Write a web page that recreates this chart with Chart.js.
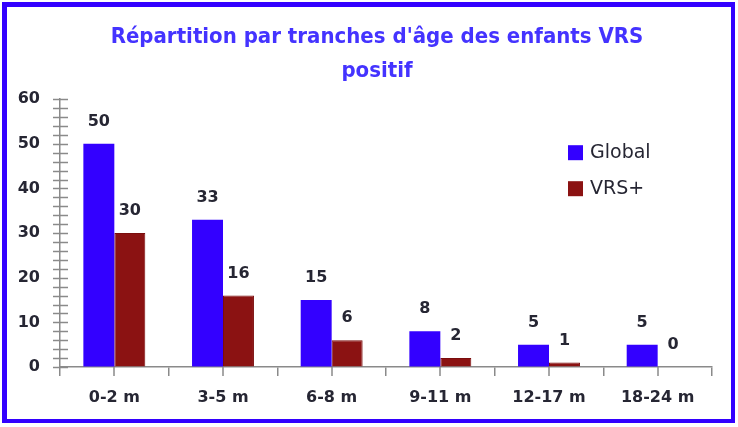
<!DOCTYPE html>
<html>
<head>
<meta charset="utf-8">
<script src="https://cdn.jsdelivr.net/npm/chart.js@4"></script>
<style>
  body { margin: 0; background: #fff; }
  #wrap { position: relative; width: 738px; height: 427px; }
  #cadre { position: absolute; left: 2px; top: 2px; width: 724px; height: 412px;
           border-style: solid; border-color: #3300ff; border-width: 5px 4px 4px 5px;
           pointer-events: none; }
</style>
</head>
<body>
<div id="wrap">
  <canvas id="grafico" width="738" height="427"></canvas>
  <div id="cadre"></div>
</div>
<script>
const tranches = ["0-2 m", "3-5 m", "6-8 m", "9-11 m", "12-17 m", "18-24 m"];
const global = [50, 33, 15, 8, 5, 5];
const vrsPlus = [30, 16, 6, 2, 1, 0];
const titre = ["Répartition par tranches d'âge des enfants VRS", "positif"];

const police = "'DejaVu Sans', sans-serif";
const gris = "#8a8a8a";
const ctx = document.getElementById("grafico").getContext("2d");

// valeurs au-dessus des barres + légende dans la zone du graphique
const etiquettes = {
  id: "etiquettes",
  afterDatasetsDraw(chart) {
    const c = chart.ctx;
    c.save();
    c.font = "bold 16px " + police;
    c.fillStyle = "#262633";
    c.textAlign = "center";
    c.textBaseline = "middle";
    chart.data.datasets.forEach((ds, i) => {
      chart.getDatasetMeta(i).data.forEach((bar, j) => {
        c.fillText(ds.data[j], bar.x, bar.y - 22);
      });
    });
    // légende
    const area = chart.chartArea;
    c.textAlign = "left";
    c.font = "19px " + police;
    chart.data.datasets.forEach((ds, i) => {
      const y = area.top + 53 + i * 36;
      c.fillStyle = ds.backgroundColor;
      c.fillRect(area.right - 144, y - 7, 15, 15);
      c.fillStyle = "#262633";
      c.fillText(ds.label, area.right - 122, y + 1);
    });
    c.restore();
  },
  afterDraw(chart) {
    // graduations : croisées sur l'axe Y, au milieu des groupes sur l'axe X
    const c = chart.ctx;
    const y = chart.scales.y, x = chart.scales.x;
    c.save();
    c.strokeStyle = gris;
    c.lineWidth = 1.5;
    c.beginPath();
    y.ticks.forEach(t => {
      const py = Math.round(y.getPixelForValue(t.value)) + 0.5;
      c.moveTo(y.right - 7, py);
      c.lineTo(y.right + 8, py);
    });
    tranches.forEach((t, i) => {
      const px = Math.round(x.getPixelForValue(i));
      c.moveTo(px, x.top);
      c.lineTo(px, x.top + 9);
    });
    c.stroke();
    c.restore();
  }
};

new Chart(ctx, {
  type: "bar",
  data: {
    labels: tranches,
    datasets: [
      { label: "Global", data: global, backgroundColor: "#3300ff" },
      { label: "VRS+", data: vrsPlus, backgroundColor: "#8b1212", borderColor: "#7a0d0d", borderWidth: 1 }
    ]
  },
  options: {
    responsive: false,
    animation: false,
    layout: { padding: { left: 16, right: 0, top: 0, bottom: 0 } },
    datasets: { bar: { barPercentage: 1, categoryPercentage: 0.57 } },
    plugins: {
      legend: { display: false },
      tooltip: { enabled: false },
      title: {
        display: true,
        text: titre,
        color: "#4433ff",
        font: { family: "'DejaVu Sans Condensed', 'DejaVu Sans', sans-serif", size: 22, weight: "bold", lineHeight: 1.55 },
        padding: { top: 20, bottom: 11 }
      }
    },
    scales: {
      x: {
        grid: { offset: true, drawOnChartArea: false, tickLength: 9, color: gris, lineWidth: 1.5 },
        border: { color: gris, width: 1.5 },
        ticks: { color: "#262633", font: { family: police, size: 16, weight: "bold" }, padding: 12, maxRotation: 0 },
        afterFit(s) { s.height = 60; }
      },
      y: {
        min: 0,
        max: 60,
        grid: { drawOnChartArea: false, drawTicks: false },
        border: { color: gris, width: 1.5 },
        ticks: {
          stepSize: 2,
          autoSkip: false,
          padding: 20,
          color: "#262633",
          font: { family: police, size: 16, weight: "bold" },
          callback: v => (v % 10 === 0 ? v : "")
        },
        afterFit(s) { s.width = 44; }
      },
      // axe vide à droite : garde la marge après l'axe X
      marge: {
        position: "right",
        min: 0,
        max: 60,
        grid: { display: false },
        border: { display: false },
        ticks: { display: false },
        afterFit(s) { s.width = 26; }
      }
    }
  },
  plugins: [etiquettes]
});
</script>
</body>
</html>
